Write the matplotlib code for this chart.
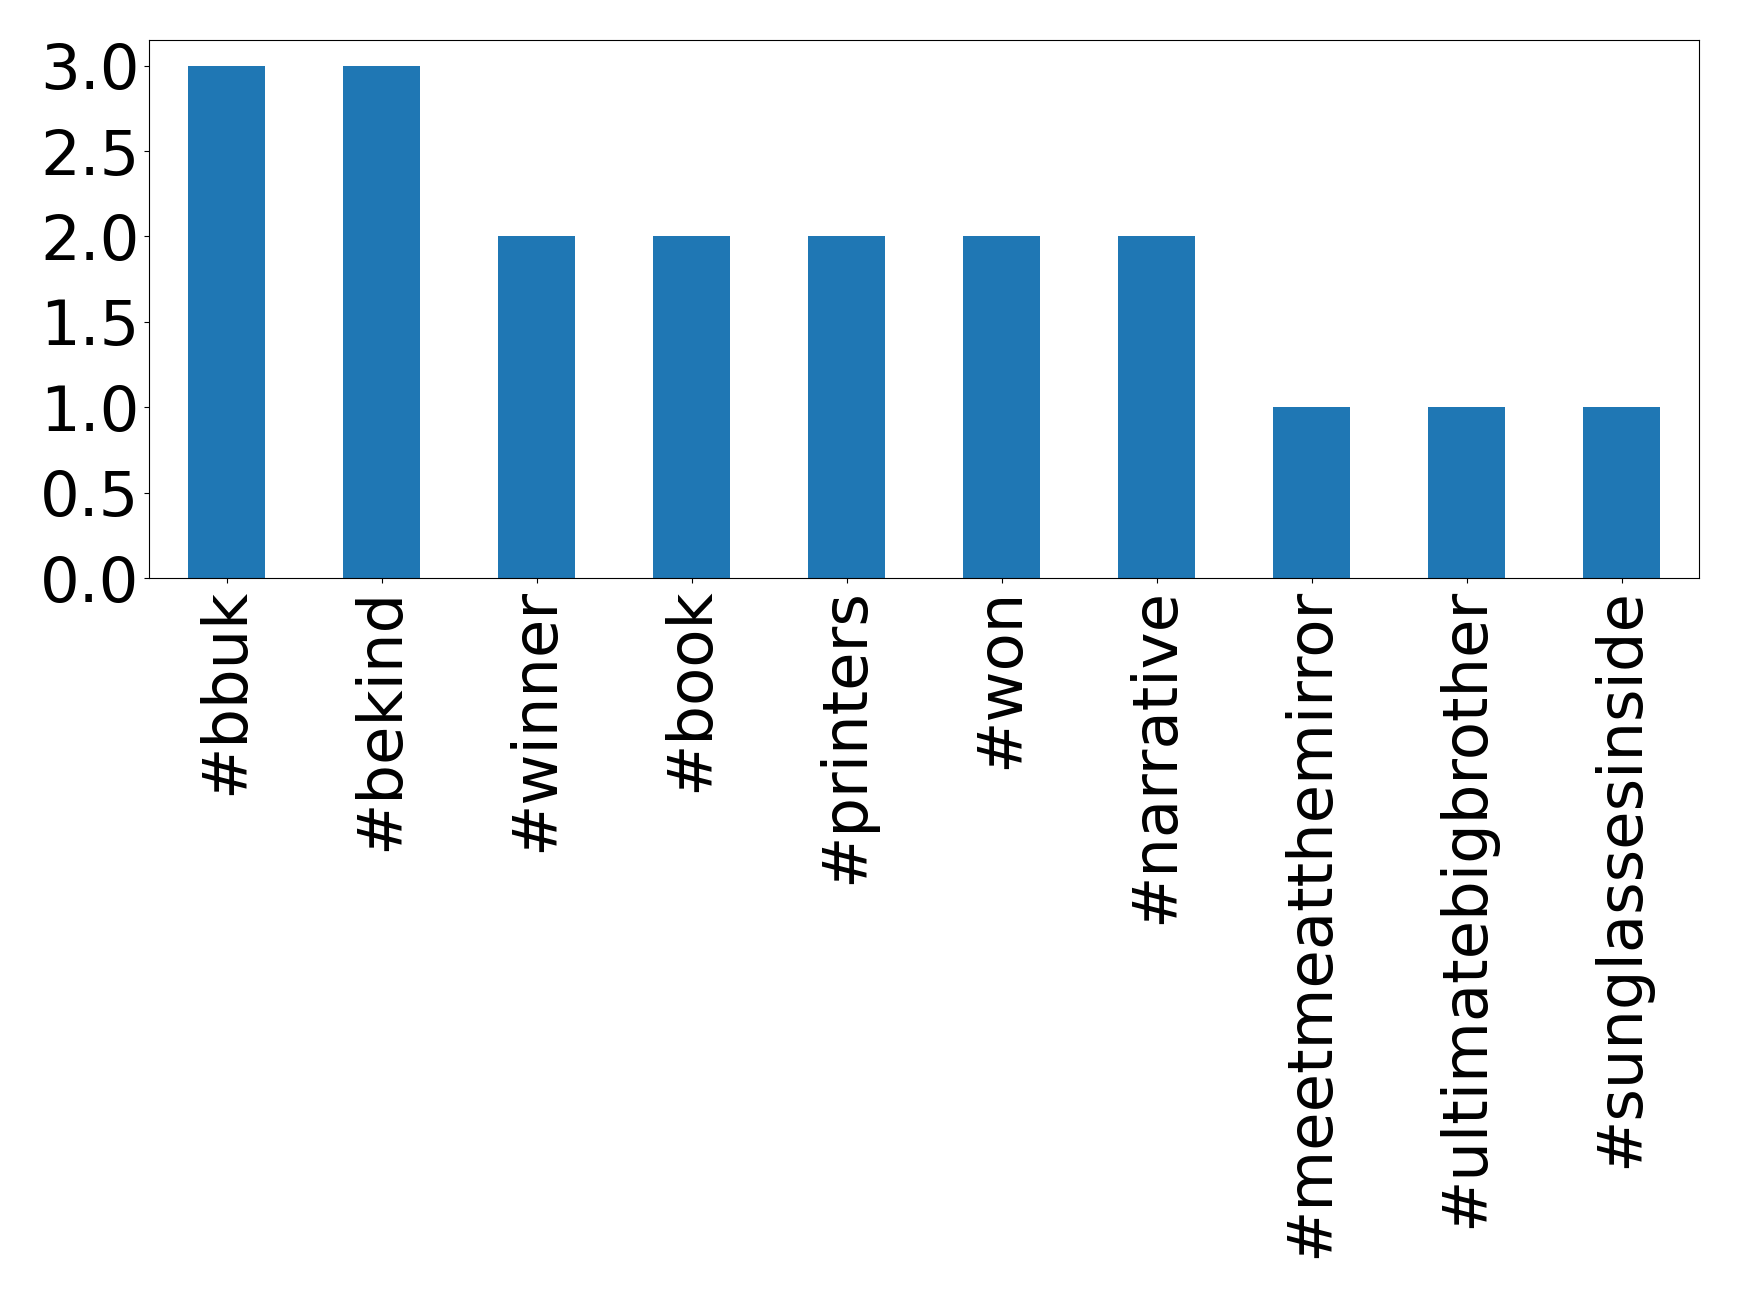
import matplotlib
matplotlib.use("Agg")
import matplotlib.pyplot as plt
from matplotlib.ticker import MultipleLocator, FormatStrFormatter

hashtags = ["#bbuk", "#bekind", "#winner", "#book", "#printers", "#won",
            "#narrative", "#meetmeatthemirror", "#ultimatebigbrother",
            "#sunglassesinside"]
counts = [3, 3, 2, 2, 2, 2, 2, 1, 1, 1]

FONT_SIZE = 45


def main():
    fig, ax = plt.subplots(figsize=(17.39, 12.98), dpi=100)
    positions = range(len(hashtags))
    ax.bar(positions, counts, width=0.5, color="#1f77b4")
    ax.set_xlim(-0.5, len(hashtags) - 0.5)
    ax.set_ylim(0, max(counts) * 1.05)
    ax.yaxis.set_major_locator(MultipleLocator(0.5))
    ax.yaxis.set_major_formatter(FormatStrFormatter("%.1f"))
    ax.set_xticks(list(positions))
    ax.set_xticklabels(hashtags, rotation=90, fontsize=FONT_SIZE)
    ax.tick_params(axis="y", labelsize=FONT_SIZE)

    fig.subplots_adjust(left=149 / 1739, right=1699 / 1739,
                        top=1 - 40 / 1298, bottom=1 - 578 / 1298)
    fig.savefig("out.png", dpi=100)


if __name__ == "__main__":
    main()
